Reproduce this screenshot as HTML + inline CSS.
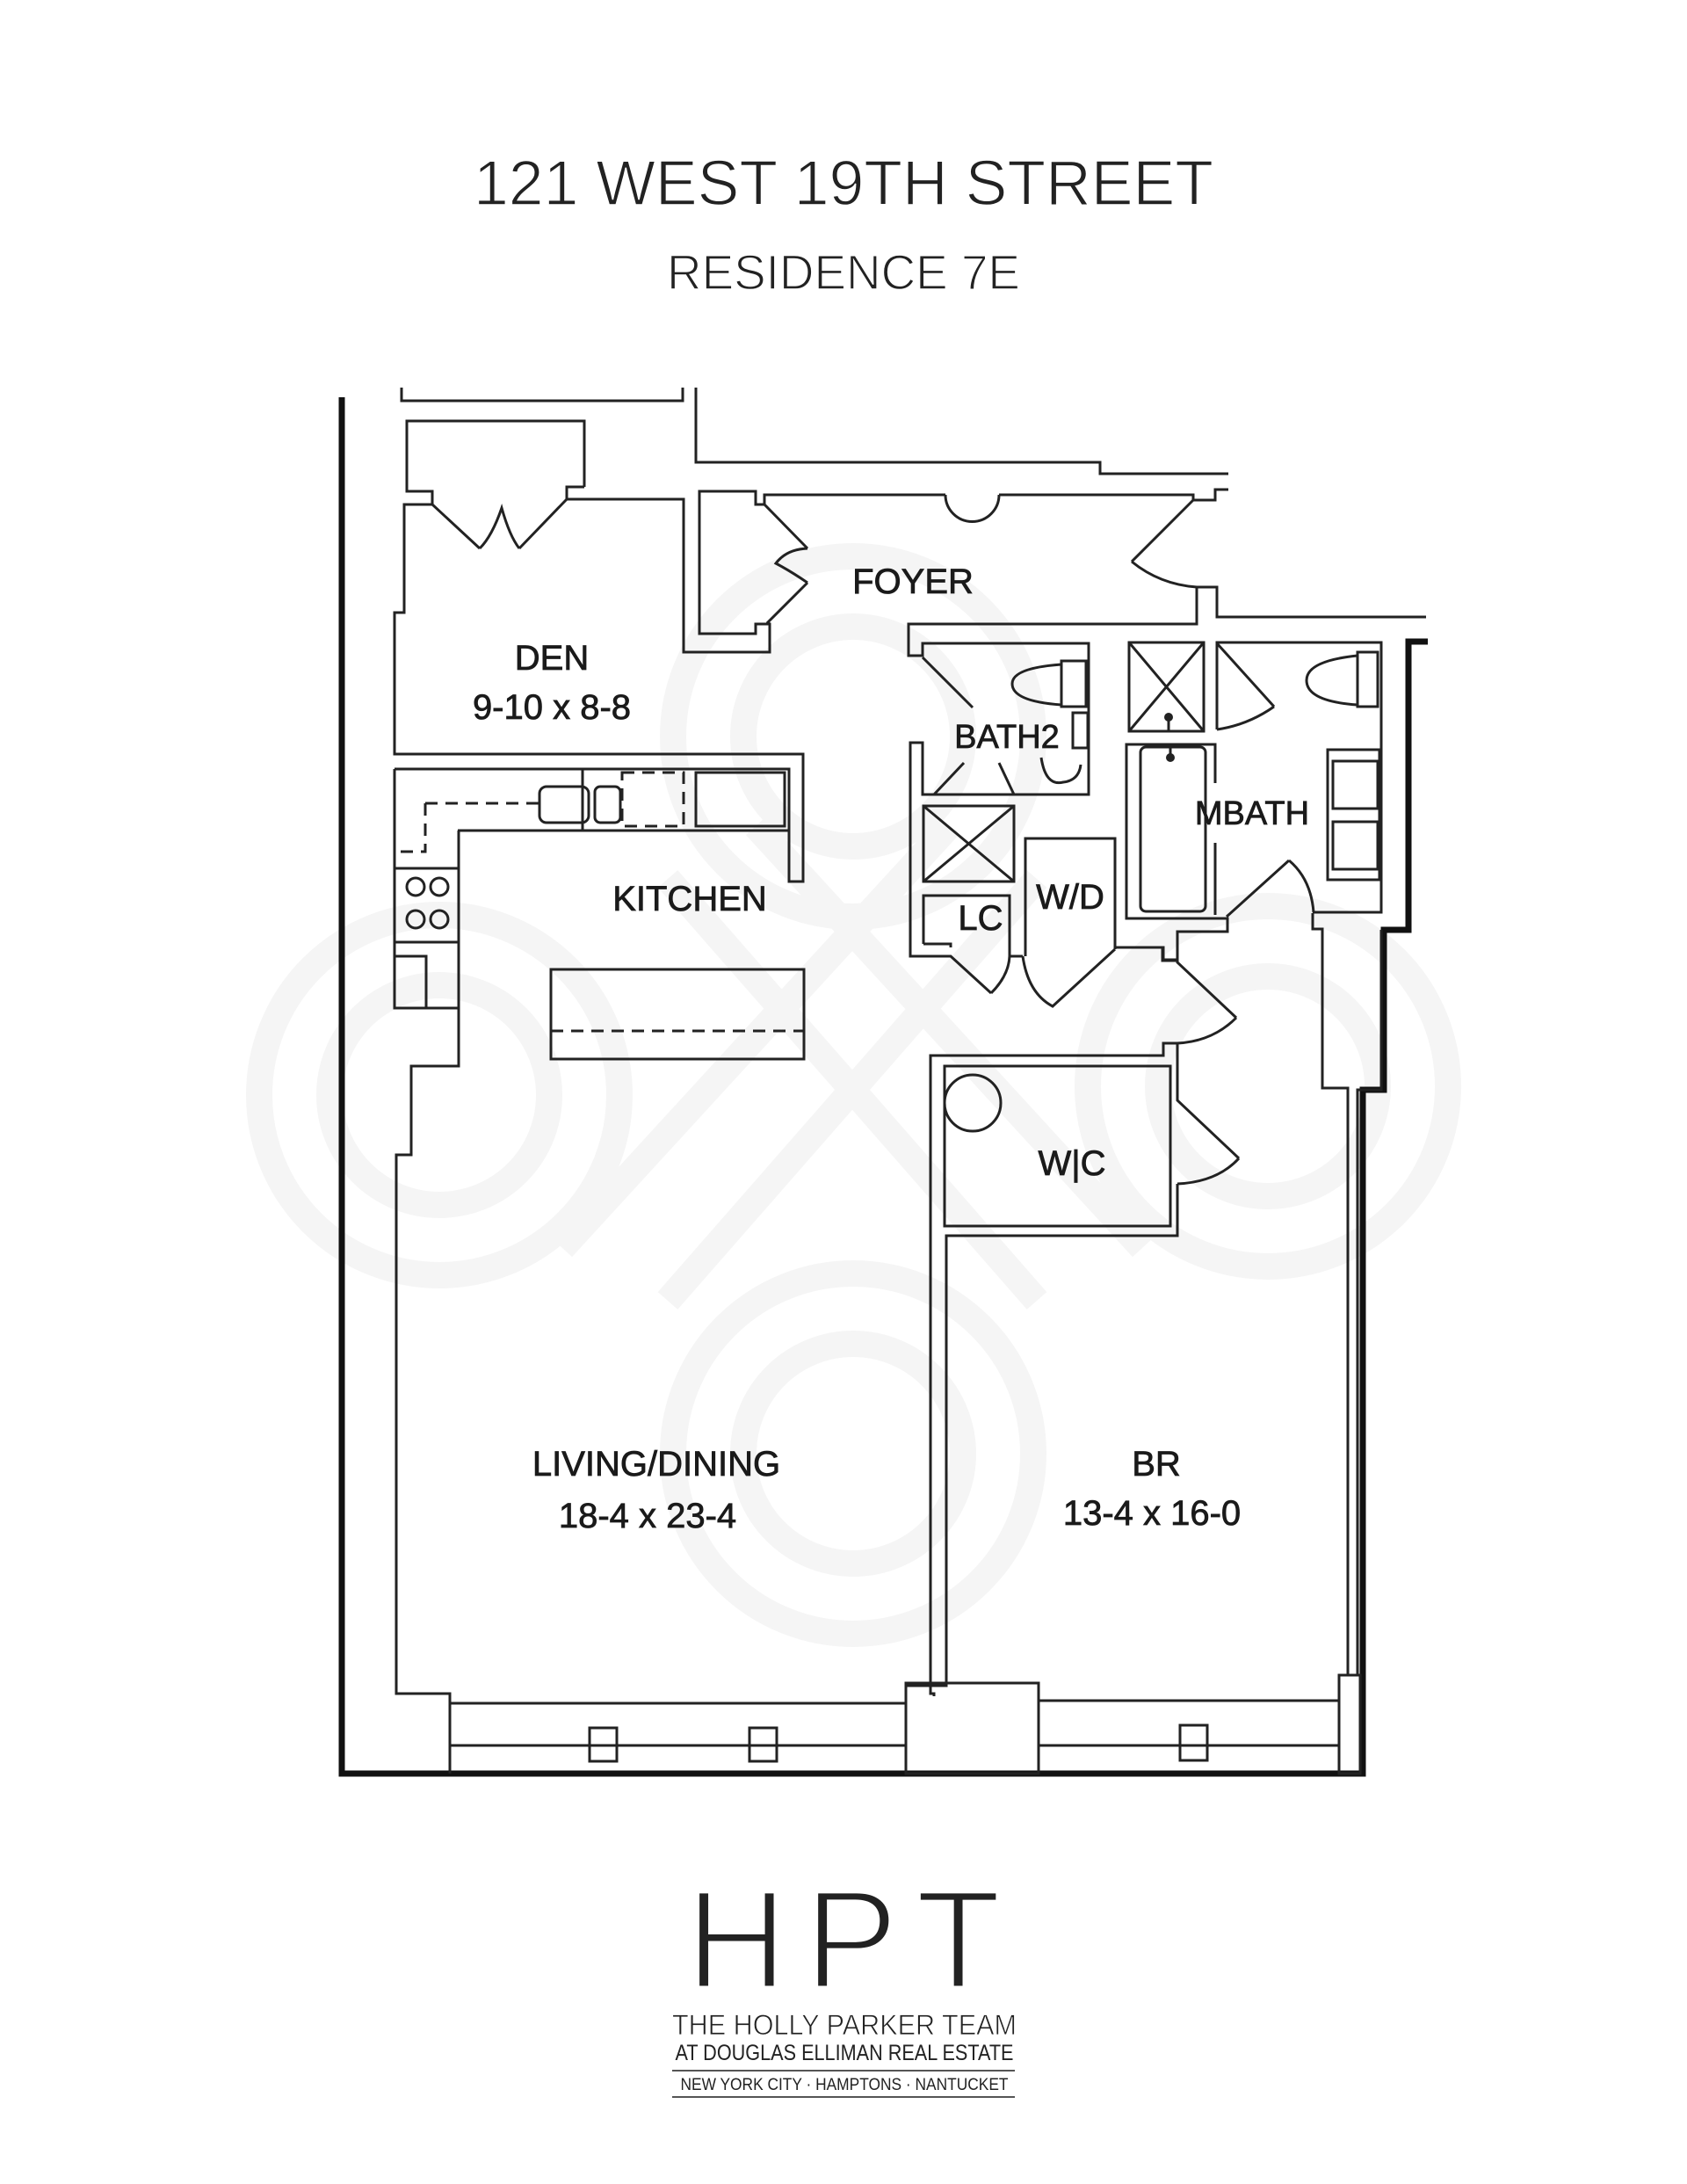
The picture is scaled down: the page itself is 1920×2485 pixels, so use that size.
<!DOCTYPE html>
<html><head><meta charset="utf-8"><style>
html,body{margin:0;padding:0;background:#fff;}
svg{display:block;}
</style></head><body>
<svg width="1920" height="2485" viewBox="0 0 1920 2485" xmlns="http://www.w3.org/2000/svg">
<rect width="1920" height="2485" fill="#fff"/>
<!-- watermark -->
<g fill="none" stroke="#f5f5f5" stroke-width="30">
<circle cx="500" cy="1246" r="205"/><circle cx="500" cy="1246" r="125"/>
<circle cx="1443" cy="1236" r="205"/><circle cx="1443" cy="1236" r="125"/>
<circle cx="971" cy="838" r="205"/><circle cx="971" cy="838" r="125"/>
<circle cx="971" cy="1654" r="205"/><circle cx="971" cy="1654" r="125"/>
<line x1="760" y1="1000" x2="1180" y2="1480"/><line x1="1180" y1="1000" x2="760" y2="1480"/>
<line x1="860" y1="940" x2="1300" y2="1420"/><line x1="1080" y1="940" x2="640" y2="1420"/>
</g>
<!-- titles -->
<g fill="#222" font-family="'Liberation Sans',sans-serif" text-anchor="middle" stroke="#fff" stroke-width="1.5">
<text x="960" y="233" font-size="72" textLength="842" lengthAdjust="spacingAndGlyphs">121 WEST 19TH STREET</text>
<text x="960" y="329" font-size="56" textLength="402" lengthAdjust="spacingAndGlyphs">RESIDENCE 7E</text>
</g>
<!-- thick outer walls -->
<g fill="none" stroke="#111" stroke-width="7" stroke-linejoin="miter">
<polyline points="389,452 389,2018 1551,2018 1551,1240 1575,1240 1575,1058 1603,1058 1603,730 1625,730"/>
</g>
<!-- thin walls -->
<g fill="none" stroke="#222" stroke-width="3" stroke-linejoin="miter">
<polyline points="457,441 457,456 777,456 777,441"/>
<polyline points="792,441 792,526 1252,526 1252,539 1398,539"/>
<polyline points="665,554 665,479 463,479 463,559 492,559 492,574 546,624"/>
<path d="M546,624 Q560,610 571,578 Q580,610 591,624"/>
<polyline points="591,624 645,568 645,554 665,554"/>
<polyline points="492,574 460,574 460,697 449,697 449,858 914,858 914,1003 898,1003 898,875 449,875"/>
<polyline points="645,568 778,568 778,742 876,742 876,710 860,710 860,721 796,721 796,559 860,559 860,574 870,574 919,624"/>
<path d="M919,624 Q895,625 883,641 Q900,650 919,663"/>
<polyline points="919,663 874,708 876,710"/>
<polyline points="860,574 870,574 870,563 1076,563"/>
<path d="M1076,563 A27,27 0 0 0 1137,563"/>
<polyline points="1137,563 1358,563 1358,569 1383,569 1383,557 1398,557"/>
<polyline points="1358,569 1288,639"/>
<path d="M1288,639 Q1320,665 1362,668"/>
<polyline points="1362,668 1385,668 1385,702 1623,702"/>
<polyline points="1362,668 1362,710 1034,710 1034,746 1050,746 1050,732 1239,732 1239,904 1050,904 1050,845 1036,845 1036,1088 1082,1088 1128,1130"/>
<path d="M1128,1130 Q1148,1110 1149,1088"/>
<polyline points="1149,1088 1164,1088"/>
<path d="M1164,1088 Q1170,1130 1198,1145 L1269,1080"/>
<polyline points="1269,1080 1269,1078 1324,1078 1324,1092 1340,1092 1340,1060 1397,1060 1397,1045 1282,1045 1282,847 1383,847 1383,891"/>
<polyline points="1383,959 1383,1041"/>
<polyline points="1323,1077 1323,1093 1340,1093 1340,1095 1407,1158"/>
<path d="M1407,1158 Q1380,1185 1340,1187"/>
<polyline points="1340,1187 1324,1187 1324,1201 1059,1201 1059,1927 1063,1927 1063,1930"/>
<polyline points="1340,1187 1340,1252 1410,1318"/>
<path d="M1410,1318 Q1385,1345 1340,1347"/>
<polyline points="1340,1347 1340,1406 1077,1406 1077,1918 1031,1918"/>
<rect x="1075" y="1213" width="257" height="182"/>
<line x1="1332" y1="1213" x2="1332" y2="1252"/>
<circle cx="1107" cy="1255" r="32"/>
<!-- living -->
<polyline points="522,945 522,1213 468,1213 468,1314 451,1314 451,1927 512,1927 512,2018"/>
<polyline points="449,875 449,1147 522,1147"/>
<line x1="512" y1="1938" x2="1031" y2="1938"/><line x1="512" y1="1986" x2="1031" y2="1986"/>
<rect x="1031" y="1915" width="151" height="103"/>
<line x1="1182" y1="1935" x2="1524" y2="1935"/><line x1="1182" y1="1986" x2="1524" y2="1986"/>
<rect x="1524" y="1906" width="24" height="112"/>
<rect x="671" y="1966" width="31" height="38"/><rect x="853" y="1966" width="31" height="38"/><rect x="1343" y="1963" width="31" height="40"/>
<!-- BR right -->
<polyline points="1534,1906 1534,1238 1505,1238 1505,1057 1494,1057 1494,1039"/>
<polyline points="1545,1906 1545,1240 1572,1240 1572,1058"/>
<polyline points="1494,1038 1572,1038 1572,731 1385,731 1385,830"/>
<polyline points="1396,1043 1467,979"/>
<path d="M1467,979 Q1492,1000 1495,1038"/>
<!-- kitchen -->
<line x1="521" y1="945" x2="898" y2="945"/>
<line x1="663" y1="875" x2="663" y2="945"/>
<line x1="449" y1="988" x2="521" y2="988"/><line x1="449" y1="1072" x2="521" y2="1072"/>
<polyline points="449,1088 485,1088 485,1147"/>
<rect x="614" y="895" width="56" height="41" rx="8"/><rect x="677" y="895" width="29" height="41" rx="6"/>
<rect x="792" y="879" width="101" height="61"/>
<rect x="627" y="1103" width="288" height="102"/>
<circle cx="473" cy="1009" r="10"/><circle cx="500" cy="1009" r="10"/><circle cx="473" cy="1046" r="10"/><circle cx="500" cy="1046" r="10"/>
<!-- bath2 -->
<line x1="1050" y1="748" x2="1107" y2="805"/>
<rect x="1208" y="752" width="28" height="52"/>
<path d="M1208,756 Q1152,760 1152,778 Q1152,798 1208,802"/>
<rect x="1221" y="811" width="17" height="40"/>
<path d="M1185,862 Q1190,895 1210,890 Q1228,888 1230,870"/>
<line x1="1063" y1="904" x2="1097" y2="868"/><line x1="1154" y1="904" x2="1137" y2="868"/>
<rect x="1051" y="917" width="103" height="86"/>
<line x1="1051" y1="917" x2="1154" y2="1003"/><line x1="1154" y1="917" x2="1051" y2="1003"/>
<polyline points="1051,1074 1051,1019 1149,1019 1149,1088"/>
<polyline points="1051,1074 1082,1074 1082,1078"/>
<polyline points="1167,1088 1167,954 1269,954 1269,1078"/>
<!-- mbath -->
<rect x="1285" y="731" width="85" height="101"/>
<line x1="1285" y1="731" x2="1370" y2="832"/><line x1="1370" y1="731" x2="1285" y2="832"/>
<line x1="1330" y1="816" x2="1330" y2="832"/>
<line x1="1385" y1="732" x2="1450" y2="804"/>
<path d="M1450,804 Q1420,825 1385,830"/>
<rect x="1298" y="850" width="74" height="187" rx="6"/>
<line x1="1332" y1="850" x2="1332" y2="862"/>
<rect x="1545" y="742" width="23" height="62"/>
<path d="M1545,746 Q1487,752 1487,774 Q1487,798 1545,802"/>
<rect x="1511" y="853" width="59" height="148"/>
<rect x="1517" y="866" width="51" height="54"/><rect x="1517" y="935" width="51" height="54"/>
</g>
<g fill="none" stroke="#222" stroke-width="3" stroke-dasharray="14,9">
<polyline points="484,914 614,914"/><polyline points="484,914 484,969 449,969"/>
<line x1="627" y1="1173" x2="915" y2="1173"/>
<rect x="708" y="879" width="70" height="61"/>
</g>
<g fill="#222"><circle cx="1330" cy="816" r="5"/><circle cx="1332" cy="862" r="5"/></g>
<!-- labels -->
<g fill="#1a1a1a" stroke="#1a1a1a" stroke-width="0.8" font-family="'Liberation Sans',sans-serif" font-size="40" text-anchor="middle">
<text x="1039" y="675">FOYER</text>
<text x="628" y="762">DEN</text>
<text x="628" y="818">9-10 x 8-8</text>
<text x="785" y="1036">KITCHEN</text>
<text x="1146" y="851" font-size="38">BATH2</text>
<text x="1425" y="938" font-size="38">MBATH</text>
<text x="1116" y="1058">LC</text>
<text x="1218" y="1034">W/D</text>
<text x="1220" y="1337">W|C</text>
<text x="747" y="1679">LIVING/DINING</text>
<text x="737" y="1738">18-4 x 23-4</text>
<text x="1316" y="1679">BR</text>
<text x="1311" y="1735">13-4 x 16-0</text>
</g>
<!-- logo -->
<g fill="#222" font-family="'Liberation Sans',sans-serif" text-anchor="middle">
<text x="960" y="2262" font-size="160" textLength="359" lengthAdjust="spacing" stroke="#fff" stroke-width="5">HPT</text>
<text x="961" y="2315" font-size="32" textLength="392" lengthAdjust="spacingAndGlyphs" stroke="#fff" stroke-width="0.8">THE HOLLY PARKER TEAM</text>
<text x="961" y="2344" font-size="25" textLength="385" lengthAdjust="spacingAndGlyphs">AT DOUGLAS ELLIMAN REAL ESTATE</text>
<text x="961" y="2378" font-size="19" textLength="373" lengthAdjust="spacingAndGlyphs">NEW YORK CITY · HAMPTONS · NANTUCKET</text>
</g>
<g stroke="#555" stroke-width="2"><line x1="765" y1="2356" x2="1155" y2="2356"/><line x1="765" y1="2386" x2="1155" y2="2386"/></g>
</svg>
</body></html>
